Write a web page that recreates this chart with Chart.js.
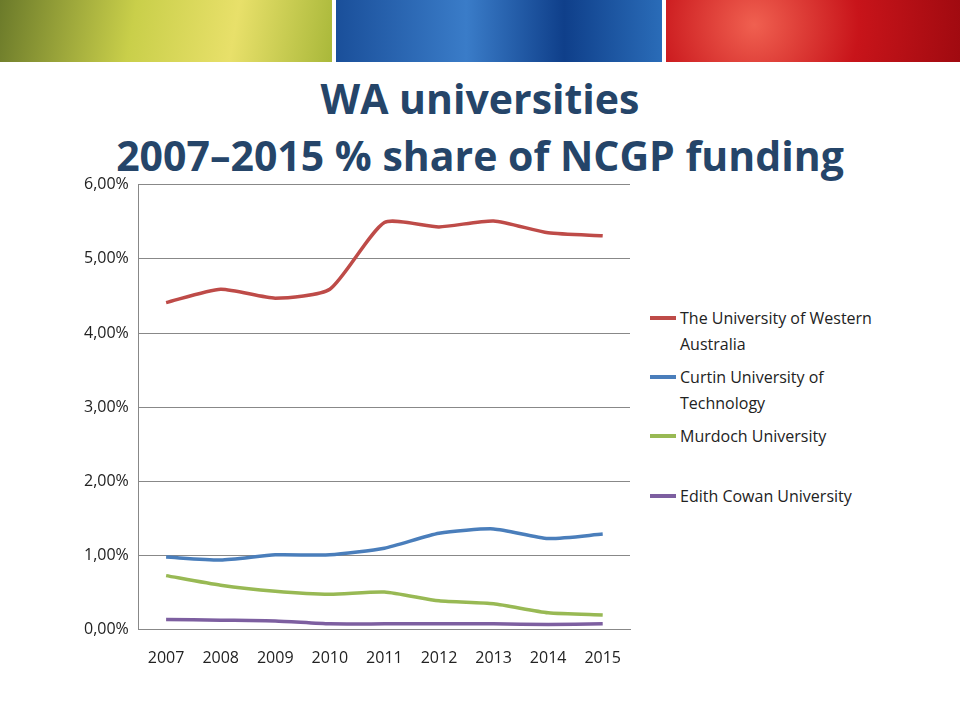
<!DOCTYPE html>
<html><head><meta charset="utf-8">
<script src="https://cdn.jsdelivr.net/npm/chart.js@4"></script>
<style>
body{margin:0;width:960px;height:720px;background:#fff;font-family:"Open Sans",sans-serif;position:relative;overflow:hidden}
.b{position:absolute;top:0;height:62px}
#title{position:absolute;top:70px;left:0;width:960px;text-align:center;color:#254569;font-weight:bold;font-size:41px;line-height:57px;font-family:"Open Sans",sans-serif}
#wrap{position:absolute;left:74px;top:165px;width:566px;height:514px}
#legend{position:absolute;left:650px;top:305px;width:300px;font-size:16px;color:#222}
.li{display:flex;align-items:flex-start;line-height:26px}
.sw{width:26px;height:4px;margin:11px 4px 0 0;flex:none}
</style></head><body>
<div class="b" style="left:0;width:332px;background:linear-gradient(100deg,#6b7a2a,#c9cf4a 40%,#e8e06a 70%,#a9b83a)"></div>
<div class="b" style="left:336px;width:326px;background:linear-gradient(90deg,#1a4f9a,#3a7cc8 40%,#0f3f8a 70%,#2a6cb8)"></div>
<div class="b" style="left:666px;width:294px;background:radial-gradient(circle at 30% 40%,#f06050,#c8141a 50%,#a00a10)"></div>
<div id="title">WA universities<br>2007–2015 % share of NCGP funding</div>
<div id="wrap"><canvas id="c"></canvas></div>
<div id="legend"></div>
<script>
const years=["2007","2008","2009","2010","2011","2012","2013","2014","2015"];
const uwa=[4.41,4.59,4.47,4.59,5.49,5.43,5.51,5.35,5.31];
const curtin=[0.98,0.94,1.01,1.01,1.10,1.30,1.36,1.23,1.29];
const murdoch=[0.73,0.60,0.52,0.48,0.51,0.39,0.35,0.23,0.20];
const ecu=[0.14,0.13,0.12,0.08,0.08,0.08,0.08,0.07,0.08];
const names=["The University of Western Australia","Curtin University of Technology","Murdoch University","Edith Cowan University"];
const colors=["#BE4B48","#4A7EBB","#98B954","#7D5FA0"];
const series=[uwa,curtin,murdoch,ecu];
const ds=series.map((d,i)=>({label:names[i],data:d,borderColor:colors[i],backgroundColor:colors[i],borderWidth:3.5,pointRadius:0,tension:0.2}));
Chart.defaults.font.family="Open Sans";
new Chart(document.getElementById('c'),{type:'line',data:{labels:years,datasets:ds},
options:{responsive:true,maintainAspectRatio:false,animation:false,
layout:{padding:{top:10,right:10,bottom:0,left:0}},
plugins:{legend:{display:false},tooltip:{enabled:false}},
scales:{x:{offset:true,grid:{display:false},border:{color:'#888'},ticks:{color:'#222',font:{size:16},padding:11}},
y:{min:0,max:6,ticks:{stepSize:1,color:'#222',font:{size:16},padding:10,callback:v=>v.toFixed(2).replace('.',',')+'%'},grid:{color:'#888',drawTicks:false},border:{color:'#888'}}}}});
const lg=document.getElementById('legend');
const mb=[7,7,34,0];
names.forEach((n,i)=>{lg.innerHTML+=`<div class="li" style="margin-bottom:${mb[i]}px"><div class="sw" style="background:${colors[i]}"></div><div>${n.replace('Western ','Western<br>').replace('of Technology','of<br>Technology')}</div></div>`;});
</script></body></html>
